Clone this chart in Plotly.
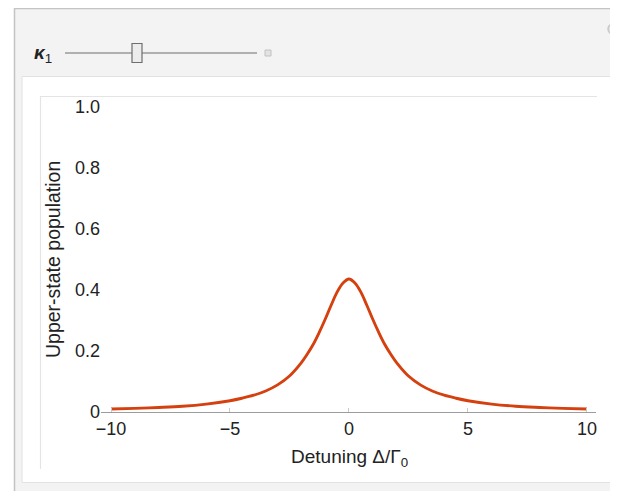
import plotly.graph_objects as go

# Data (detuning, upper-state population); curve is symmetric
detuning_half = [-10, -9, -8, -7, -6, -5, -4.5, -4, -3.5, -3, -2.5, -2, -1.75, -1.5,
                 -1.25, -1, -0.75, -0.5, -0.25, 0]
population_half = [0.010, 0.012, 0.015, 0.019, 0.026, 0.037, 0.045, 0.055, 0.069, 0.089,
                   0.118, 0.162, 0.190, 0.222, 0.261, 0.304, 0.350, 0.393, 0.423, 0.436]
detuning = detuning_half + [-v for v in detuning_half[-2::-1]]
population = population_half + population_half[-2::-1]

x_tickvals = [-10, -5, 0, 5, 10]
x_ticktext = ["\u221210", "\u22125", "0", "5", "10"]
y_tickvals = [0, 0.2, 0.4, 0.6, 0.8, 1.0]
y_ticktext = ["0", "0.2", "0.4", "0.6", "0.8", "1.0"]

OFF = 8  # page body margin
W, H = 618 - OFF, 491 - OFF
L, R, T, B = 101 - OFF, 22, 107 - OFF, 79
PW, PH = W - L - R, H - T - B
FONT = "Liberation Sans, Arial, sans-serif"


def px(x):
    return (x - OFF - L) / PW


def py(y):
    return (T + PH - (y - OFF)) / PH


fig = go.Figure()
fig.add_trace(go.Scatter(x=detuning, y=population, mode="lines",
                         line=dict(color="#d5400f", width=2.9, shape="spline"),
                         hoverinfo="skip", showlegend=False))

shapes = []
# outer gray panel
shapes.append(dict(type="rect", xref="paper", yref="paper", x0=px(14.5), x1=px(625), y0=py(8.5), y1=py(500),
                   fillcolor="#f3f3f3", line=dict(color="#c4c4c4", width=1.5), layer="below"))
# white content pane
shapes.append(dict(type="rect", xref="paper", yref="paper", x0=px(22), x1=px(615.5), y0=py(76.5), y1=py(482.5),
                   fillcolor="#ffffff", line=dict(color="#e2e2e2", width=1), layer="below"))
# inner frame (top and left edges)
shapes.append(dict(type="line", xref="paper", yref="paper", x0=px(40), x1=px(597), y0=py(96.5), y1=py(96.5),
                   line=dict(color="#e4e4e4", width=1.2), layer="below"))
shapes.append(dict(type="line", xref="paper", yref="paper", x0=px(40.5), x1=px(40.5), y0=py(96), y1=py(469),
                   line=dict(color="#e4e4e4", width=1.2), layer="below"))
# slider track
shapes.append(dict(type="line", xref="paper", yref="paper", x0=px(65), x1=px(257), y0=py(53), y1=py(53),
                   line=dict(color="#9a9a9a", width=1.5), layer="above"))
# slider thumb
shapes.append(dict(type="rect", xref="paper", yref="paper", x0=px(132), x1=px(142), y0=py(43.5), y1=py(62.5),
                   fillcolor="#ececec", line=dict(color="#6e6e6e", width=1.2), layer="above"))
# small square button
shapes.append(dict(type="rect", xref="paper", yref="paper", x0=px(265), x1=px(271), y0=py(50), y1=py(56),
                   fillcolor="#e2e2e2", line=dict(color="#c2c2c2", width=1), layer="above"))
# corner circle icon
shapes.append(dict(type="circle", xref="paper", yref="paper", x0=px(608), x1=px(618), y0=py(24), y1=py(34),
                   fillcolor="#e0e0e0", line=dict(color="#c8c8c8", width=1.5), layer="above"))

annotations = [
    dict(text="<b><i>\u03ba</i></b><sub>1</sub>", xref="paper", yref="paper", x=px(32), y=py(54),
         xanchor="left", yanchor="middle", showarrow=False,
         font=dict(family=FONT, size=19, color="#222222")),
    dict(text="Detuning \u0394/\u0393<sub>0</sub>", xref="paper", yref="paper", x=px(349), y=py(458),
         xanchor="center", yanchor="middle", showarrow=False,
         font=dict(family=FONT, size=19, color="#222222")),
    dict(text="Upper-state population", xref="paper", yref="paper", x=px(53), y=py(260),
         xanchor="center", yanchor="middle", showarrow=False, textangle=-90,
         font=dict(family=FONT, size=19.5, color="#222222")),
]

fig.update_layout(
    width=W, height=H,
    margin=dict(l=L, r=R, t=T, b=B, pad=0),
    paper_bgcolor="#ffffff",
    plot_bgcolor="rgba(0,0,0,0)",
    shapes=shapes,
    annotations=annotations,
    font=dict(family=FONT, size=18, color="#222222"),
    xaxis=dict(range=[-10.42, 10.38], tickvals=x_tickvals, ticktext=x_ticktext,
               showline=True, linecolor="#9c9c9c", linewidth=1, zeroline=False, showgrid=False,
               ticks="inside", ticklen=4, tickcolor="#c8c8c8", tickwidth=1,
               tickfont=dict(family=FONT, size=18, color="#222222"), fixedrange=True),
    yaxis=dict(range=[0, 1], tickvals=y_tickvals, ticktext=y_ticktext,
               showline=False, zeroline=False, showgrid=False, ticks="",
               ticklabelstandoff=0,
               tickfont=dict(family=FONT, size=18, color="#222222"), fixedrange=True),
)

fig.write_html("out.html")
